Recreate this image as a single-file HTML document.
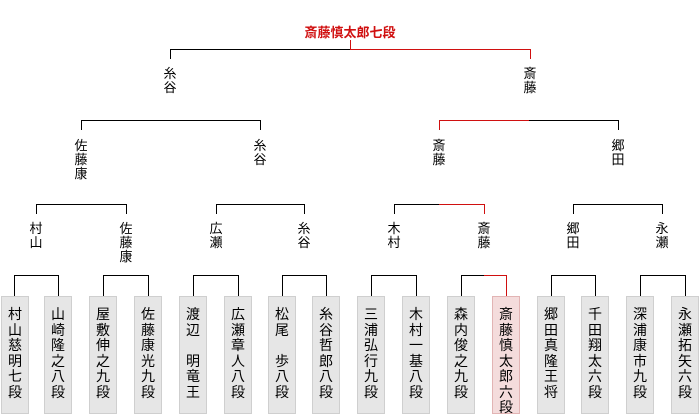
<!DOCTYPE html>
<html><head><meta charset="utf-8"><style>
body{margin:0;width:700px;height:415px;background:#fff;position:relative;overflow:hidden;font-family:"Liberation Sans","Noto Sans CJK JP",sans-serif;color:#000}
svg{position:absolute;left:0;top:0}
.l{position:absolute;width:30px;margin-left:-15px;text-align:center;font-size:13px;line-height:14px}
.b{position:absolute;top:296px;width:26px;height:118px;background:#e6e6e6;border:1px solid #cfcfcf;text-align:center;font-size:14px;line-height:15.5px;padding-top:10px;box-sizing:border-box;width:28px}
.r{background:#f4dcdc;border-color:#e2b4b4}
.t{position:absolute;top:22px;left:0;width:700px;text-align:center;color:#d01010;font-weight:bold;font-size:13px}
</style></head><body>
<svg width="700" height="415" shape-rendering="crispEdges" fill="none" stroke-width="1">
<g stroke="#000">
<path d="M14.5 296V275.5H58.5V296M103.5 296V275.5H148.5V296M193.5 296V275.5H238.5V296M282.5 296V275.5H326.5V296M371.5 296V275.5H416.5V296M461.5 296V275.5H506.5V296M551.5 296V275.5H595.5V296M640.5 296V275.5H685.5V296"/>
<path d="M36.5 214V204.5H126.5V214M216.5 214V204.5H304.5V214M394.5 214V204.5H484.5V214M573.5 214V204.5H662.5V214"/>
<path d="M81.5 130V120.5H260.5V130M439.5 130V120.5H618.5V130"/>
<path d="M170.5 59V49.5H530.5V59"/>
</g>
<g stroke="#d01010">
<path d="M484 275.5H506.5V296"/>
<path d="M439 204.5H484.5V214"/>
<path d="M439.5 130V120.5H529"/>
<path d="M350.5 40V49.5H530.5V59"/>
</g>
</svg>
<div class="t">斎藤慎太郎七段</div>

<div class="l" style="left:170px;top:67px">糸<br>谷</div>
<div class="l" style="left:530px;top:67px">斎<br>藤</div>

<div class="l" style="left:81px;top:139px">佐<br>藤<br>康</div>
<div class="l" style="left:260px;top:139px">糸<br>谷</div>
<div class="l" style="left:439px;top:139px">斎<br>藤</div>
<div class="l" style="left:618px;top:139px">郷<br>田</div>

<div class="l" style="left:36px;top:222px">村<br>山</div>
<div class="l" style="left:126px;top:222px">佐<br>藤<br>康</div>
<div class="l" style="left:216px;top:222px">広<br>瀬</div>
<div class="l" style="left:304px;top:222px">糸<br>谷</div>
<div class="l" style="left:394px;top:222px">木<br>村</div>
<div class="l" style="left:484px;top:222px">斎<br>藤</div>
<div class="l" style="left:573px;top:222px">郷<br>田</div>
<div class="l" style="left:662px;top:222px">永<br>瀬</div>

<div class="b" style="left:1px">村<br>山<br>慈<br>明<br>七<br>段</div>
<div class="b" style="left:44px">山<br>崎<br>隆<br>之<br>八<br>段</div>
<div class="b" style="left:89px">屋<br>敷<br>伸<br>之<br>九<br>段</div>
<div class="b" style="left:134px">佐<br>藤<br>康<br>光<br>九<br>段</div>
<div class="b" style="left:179px">渡<br>辺<br>　<br>明<br>竜<br>王</div>
<div class="b" style="left:224px">広<br>瀬<br>章<br>人<br>八<br>段</div>
<div class="b" style="left:268px">松<br>尾<br>　<br>歩<br>八<br>段</div>
<div class="b" style="left:312px">糸<br>谷<br>哲<br>郎<br>八<br>段</div>
<div class="b" style="left:357px">三<br>浦<br>弘<br>行<br>九<br>段</div>
<div class="b" style="left:402px">木<br>村<br>一<br>基<br>八<br>段</div>
<div class="b" style="left:447px">森<br>内<br>俊<br>之<br>九<br>段</div>
<div class="b r" style="left:492px">斎<br>藤<br>慎<br>太<br>郎<br>六<br>段</div>
<div class="b" style="left:537px">郷<br>田<br>真<br>隆<br>王<br>将</div>
<div class="b" style="left:581px">千<br>田<br>翔<br>太<br>六<br>段</div>
<div class="b" style="left:626px">深<br>浦<br>康<br>市<br>九<br>段</div>
<div class="b" style="left:671px">永<br>瀬<br>拓<br>矢<br>六<br>段</div>
</body></html>
